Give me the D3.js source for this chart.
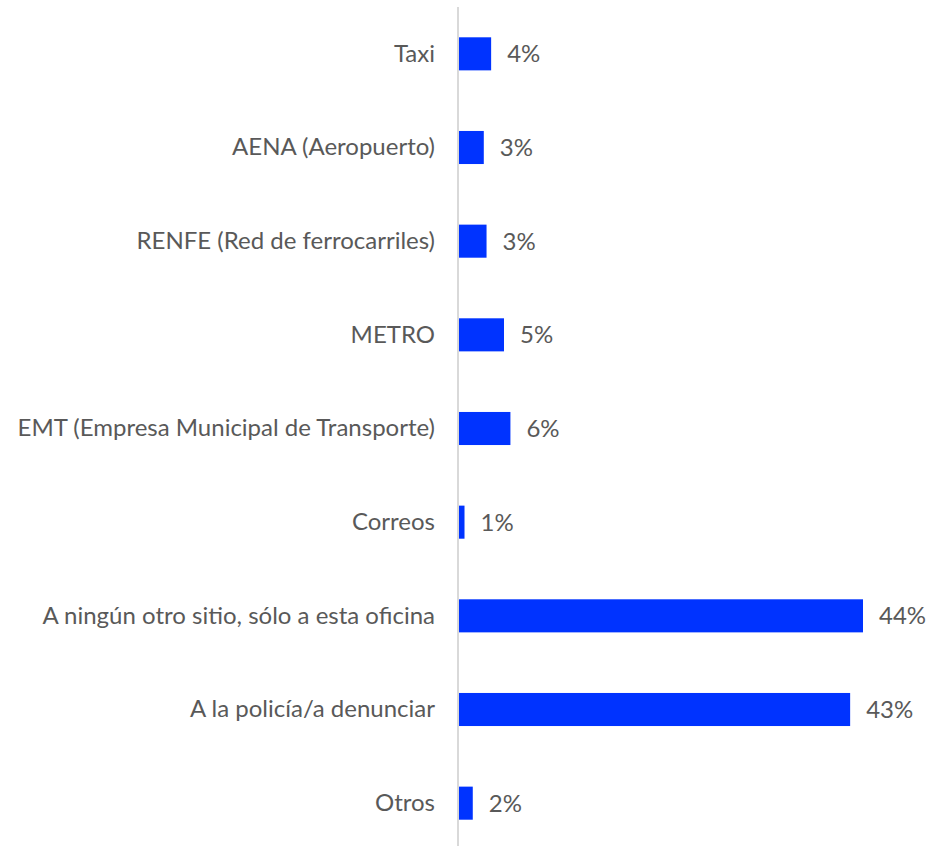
<!DOCTYPE html>
<html>
<head>
<meta charset="utf-8">
<script src="https://cdn.jsdelivr.net/npm/d3@7"></script>
<style>
  body { margin: 0; background: #fff; }
  svg text { font-family: Lato, "Open Sans", sans-serif; fill: #595959; font-weight: 400; }
</style>
</head>
<body>
<svg id="chart" width="930" height="846"></svg>
<script>
const categories = [
  'Taxi',
  'AENA (Aeropuerto)',
  'RENFE (Red de ferrocarriles)',
  'METRO',
  'EMT (Empresa Municipal de Transporte)',
  'Correos',
  'A ningún otro sitio, sólo a esta oficina',
  'A la policía/a denunciar',
  'Otros'
]
const values = [3.5, 2.7, 3.0, 4.9, 5.6, 0.6, 44.0, 42.6, 1.5]

const svg = d3.select('#chart')
const plotLeft = 459
const plotTop = 7
const plotBottom = 850

const x = d3.scaleLinear().domain([0, 44]).range([plotLeft, plotLeft + 404])
const y = d3.scaleBand().domain(categories).range([plotTop, plotBottom])
  .paddingInner(0.647).paddingOuter(0.3235)

// vertical axis line
svg.append('line')
  .attr('x1', plotLeft - 1).attr('x2', plotLeft - 1)
  .attr('y1', plotTop).attr('y2', 846)
  .attr('stroke', '#d9d9d9')
  .attr('stroke-width', 2)

const yAxis = d3.axisLeft(y).tickSize(0).tickPadding(24)
const gy = svg.append('g')
  .attr('transform', `translate(${plotLeft},0)`)
  .call(yAxis)
gy.select('.domain').remove()
gy.selectAll('text')
  .attr('font-size', 24)
  .attr('font-family', 'Lato, sans-serif')
  .attr('fill', '#595959')

const data = categories.map((c, i) => ({ cat: c, value: values[i] }))

svg.selectAll('rect.bar')
  .data(data)
  .enter()
  .append('rect')
  .attr('class', 'bar')
  .attr('x', x(0))
  .attr('y', d => y(d.cat))
  .attr('width', d => x(d.value) - x(0))
  .attr('height', y.bandwidth())
  .attr('fill', '#0033ff')

svg.selectAll('text.val')
  .data(data)
  .enter()
  .append('text')
  .attr('class', 'val')
  .attr('x', d => x(d.value) + 16)
  .attr('y', d => y(d.cat) + y.bandwidth() / 2)
  .attr('dy', '0.35em')
  .attr('font-size', 24)
  .text(d => Math.round(d.value) + '%')
</script>
</body>
</html>
